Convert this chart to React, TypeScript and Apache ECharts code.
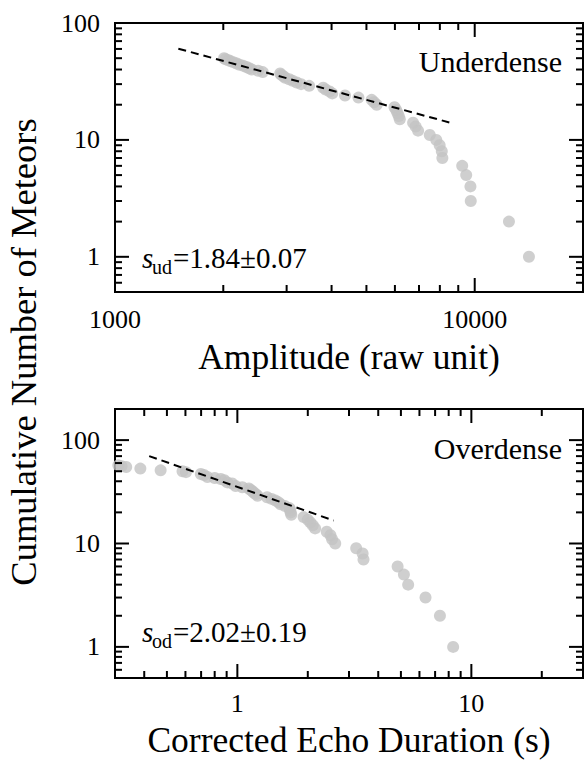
import React, { useEffect, useRef } from 'react';
import * as echarts from 'echarts';

// Underdense: amplitude (raw unit) vs cumulative number
const udAmplitude = [2010, 2030, 2067, 2100, 2140, 2180, 2220, 2275, 2320, 2360, 2400, 2500, 2575, 2878, 2900, 2940, 2973, 3050, 3120, 3200, 3291, 3465, 3791, 3850, 3950, 4017, 4360, 4750, 5170, 5250, 5340, 5985, 6050, 6100, 6150, 6190, 6740, 6850, 6960, 7500, 7820, 7990, 8100, 8130, 9230, 9470, 9730, 9750, 12450, 14150];
const udCount = [50, 49, 48, 47, 46, 45, 44, 43, 42, 41, 40, 39, 38, 37, 36, 35, 34, 33, 32, 31, 30, 29, 28, 27, 26, 25, 24, 23, 22, 21, 20, 19, 18, 17, 16, 15, 14, 13, 12, 11, 10, 9, 8, 7, 6, 5, 4, 3, 2, 1];
const udFitX = [1500, 8500];
const udFitY = [60.3, 14.1];

// Overdense: corrected echo duration (s) vs cumulative number
const odDuration = [0.31, 0.32, 0.335, 0.385, 0.47, 0.583, 0.603, 0.698, 0.72, 0.745, 0.8, 0.849, 0.88, 0.906, 0.95, 0.983, 1.05, 1.12, 1.14, 1.16, 1.177, 1.2, 1.22, 1.34, 1.4, 1.456, 1.5, 1.53, 1.6, 1.67, 1.68, 1.69, 1.7, 1.92, 2.0, 2.05, 2.1, 2.15, 2.41, 2.5, 2.54, 2.62, 3.22, 3.43, 3.46, 4.84, 5.15, 5.37, 6.37, 7.34, 8.36];
const odCount = [57, 56, 55, 53, 51, 50, 49, 47, 46, 44, 43, 42, 41, 39, 38, 36, 35, 34, 33, 32, 31, 30, 29, 28, 27, 26, 25, 24, 23, 22, 21, 20, 19, 18, 17, 16, 15, 14, 13, 12, 11, 10, 9, 8, 7, 6, 5, 4, 3, 2, 1];
const odFitX = [0.42, 2.58];
const odFitY = [70, 16.7];

// Axis ranges and ticks
const topXRange = [1000, 20000];
const topYRange = [0.5, 100];
const botXRange = [0.3, 30];
const botYRange = [0.5, 200];
const topXMajor = [1000, 10000];
const topXMinor = [2000, 3000, 4000, 5000, 6000, 7000, 8000, 9000];
const yMajor = [1, 10, 100];
const yMinor = [0.6, 0.7, 0.8, 0.9, 2, 3, 4, 5, 6, 7, 8, 9, 20, 30, 40, 50, 60, 70, 80, 90];
const botXMajor = [1, 10];
const botXMinor = [0.4, 0.5, 0.6, 0.7, 0.8, 0.9, 2, 3, 4, 5, 6, 7, 8, 9, 20];

const FONT = 'Liberation Serif';
const GRAY = '#c3c3c3';

function powLabel(v: number) {
  const l = Math.log10(v);
  const r = Math.round(l);
  if (Math.abs(l - r) < 1e-6) return String(Math.round(Math.pow(10, r) * 1000) / 1000);
  return '';
}

function tickData(xMajor: number[], xMinor: number[], yMaj: number[], yMin: number[], xRef: number, yRef: number) {
  const d: number[][] = [];
  xMajor.forEach((v) => d.push([v, yRef, 0, 1]));
  xMinor.forEach((v) => d.push([v, yRef, 0, 0]));
  yMaj.forEach((v) => d.push([xRef, v, 1, 1]));
  yMin.forEach((v) => d.push([xRef, v, 1, 0]));
  return d;
}

function tickRender(params: any, api: any) {
  const cs = params.coordSys;
  const isY = api.value(2) === 1;
  const len = api.value(3) === 1 ? 14 : 7;
  const p = api.coord([api.value(0), api.value(1)]);
  const style = { stroke: '#000', lineWidth: 2 };
  if (!isY) {
    const x = p[0];
    return {
      type: 'group',
      children: [
        { type: 'line', shape: { x1: x, y1: cs.y + cs.height, x2: x, y2: cs.y + cs.height - len }, style },
        { type: 'line', shape: { x1: x, y1: cs.y, x2: x, y2: cs.y + len }, style },
      ],
    };
  }
  const y = p[1];
  return {
    type: 'group',
    children: [
      { type: 'line', shape: { x1: cs.x, y1: y, x2: cs.x + len, y2: y }, style },
      { type: 'line', shape: { x1: cs.x + cs.width, y1: y, x2: cs.x + cs.width - len, y2: y }, style },
    ],
  };
}

const App: React.FC = () => {
  const ref = useRef<HTMLDivElement>(null);

  useEffect(() => {
    if (!ref.current) return;
    const chart = echarts.init(ref.current, null, { renderer: 'svg' });

    const axisLabel = {
      formatter: powLabel,
      fontFamily: FONT,
      fontSize: 26,
      color: '#000',
      showMinLabel: true,
      showMaxLabel: true,
    };
    const nameStyle = { fontFamily: FONT, fontSize: 35.5, color: '#000' };

    const xAxisBase = {
      type: 'log' as const,
      logBase: 10,
      axisLine: { show: false },
      axisTick: { show: false },
      minorTick: { show: false },
      splitLine: { show: false },
      nameLocation: 'middle' as const,
      nameGap: 47,
      nameTextStyle: nameStyle,
    };
    const yAxisBase = {
      type: 'log' as const,
      logBase: 10,
      axisLine: { show: false },
      axisTick: { show: false },
      minorTick: { show: false },
      splitLine: { show: false },
    };

    const option: any = {
      animation: false,
      backgroundColor: '#fff',
      grid: [
        { left: 115, top: 23, width: 468, height: 269, show: true, borderColor: '#000', borderWidth: 2, backgroundColor: 'transparent' },
        { left: 115, top: 409, width: 468, height: 269, show: true, borderColor: '#000', borderWidth: 2, backgroundColor: 'transparent' },
      ],
      xAxis: [
        { ...xAxisBase, gridIndex: 0, min: topXRange[0], max: topXRange[1], name: 'Amplitude (raw unit)', axisLabel: { ...axisLabel, margin: 14 } },
        { ...xAxisBase, gridIndex: 1, min: botXRange[0], max: botXRange[1], name: 'Corrected Echo Duration (s)', axisLabel: { ...axisLabel, margin: 12 }, nameGap: 44 },
      ],
      yAxis: [
        { ...yAxisBase, gridIndex: 0, min: topYRange[0], max: topYRange[1], axisLabel: { ...axisLabel, margin: 15 } },
        { ...yAxisBase, gridIndex: 1, min: botYRange[0], max: botYRange[1], axisLabel: { ...axisLabel, margin: 15 } },
      ],
      series: [
        {
          type: 'scatter', xAxisIndex: 0, yAxisIndex: 0, symbol: 'circle', symbolSize: 12,
          itemStyle: { color: GRAY }, silent: true,
          data: udAmplitude.map((x, i) => [x, udCount[i]]),
        },
        {
          type: 'line', xAxisIndex: 0, yAxisIndex: 0, showSymbol: false, silent: true,
          lineStyle: { color: '#000', width: 2, type: [8, 5] },
          data: udFitX.map((x, i) => [x, udFitY[i]]),
        },
        {
          type: 'scatter', xAxisIndex: 1, yAxisIndex: 1, symbol: 'circle', symbolSize: 12,
          itemStyle: { color: GRAY }, silent: true,
          data: odDuration.map((x, i) => [x, odCount[i]]),
        },
        {
          type: 'line', xAxisIndex: 1, yAxisIndex: 1, showSymbol: false, silent: true,
          lineStyle: { color: '#000', width: 2, type: [8, 5] },
          data: odFitX.map((x, i) => [x, odFitY[i]]),
        },
        {
          type: 'custom', xAxisIndex: 0, yAxisIndex: 0, clip: false, silent: true, z: 10,
          renderItem: tickRender,
          data: tickData(topXMajor, topXMinor, yMajor, yMinor, 3000, 10),
        },
        {
          type: 'custom', xAxisIndex: 1, yAxisIndex: 1, clip: false, silent: true, z: 10,
          renderItem: tickRender,
          data: tickData(botXMajor, botXMinor, yMajor, yMinor, 1, 10),
        },
      ],
      graphic: [
        {
          type: 'text', x: 23, y: 352, rotation: Math.PI / 2,
          style: { text: 'Cumulative Number of Meteors', font: `36.5px "${FONT}"`, fill: '#000', align: 'center', verticalAlign: 'middle' },
        },
        {
          type: 'text', x: 562, y: 61,
          style: { text: 'Underdense', font: `30px "${FONT}"`, fill: '#000', align: 'right', verticalAlign: 'middle' },
        },
        {
          type: 'text', x: 562, y: 448,
          style: { text: 'Overdense', font: `30px "${FONT}"`, fill: '#000', align: 'right', verticalAlign: 'middle' },
        },
        {
          type: 'group', x: 142, y: 258,
          children: [
            { type: 'text', x: 0, y: 0, style: { text: 's', font: `italic 29px "${FONT}"`, fill: '#000', align: 'left', verticalAlign: 'middle' } },
            { type: 'text', x: 10, y: 9, style: { text: 'ud', font: `20px "${FONT}"`, fill: '#000', align: 'left', verticalAlign: 'middle' } },
            { type: 'text', x: 31, y: 0, style: { text: '=1.84±0.07', font: `29px "${FONT}"`, fill: '#000', align: 'left', verticalAlign: 'middle' } },
          ],
        },
        {
          type: 'group', x: 142, y: 632,
          children: [
            { type: 'text', x: 0, y: 0, style: { text: 's', font: `italic 29px "${FONT}"`, fill: '#000', align: 'left', verticalAlign: 'middle' } },
            { type: 'text', x: 10, y: 9, style: { text: 'od', font: `20px "${FONT}"`, fill: '#000', align: 'left', verticalAlign: 'middle' } },
            { type: 'text', x: 31, y: 0, style: { text: '=2.02±0.19', font: `29px "${FONT}"`, fill: '#000', align: 'left', verticalAlign: 'middle' } },
          ],
        },
      ],
    };

    chart.setOption(option);
    return () => chart.dispose();
  }, []);

  return <div ref={ref} style={{ width: 586, height: 762, position: 'absolute', left: 0, top: 0 }} />;
};

export default App;
